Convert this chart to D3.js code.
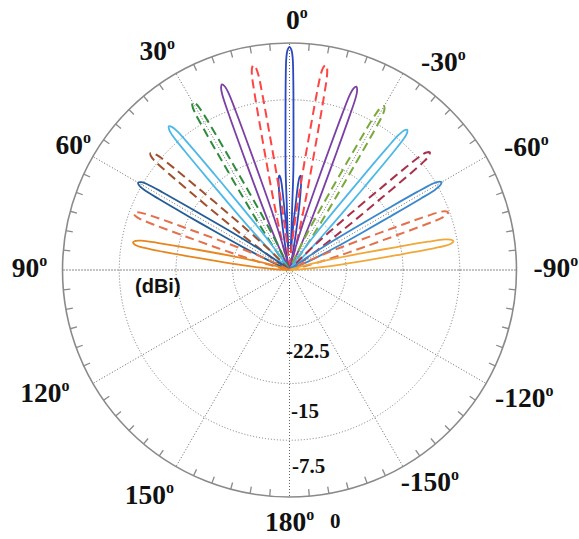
<!DOCTYPE html>
<html><head><meta charset="utf-8">
<script src="https://cdn.jsdelivr.net/npm/d3@7"></script>
<style>
html,body{margin:0;padding:0;background:#fff;}
svg{display:block;}
</style></head>
<body>
<svg id="chart" width="579" height="539"></svg>
<script>
// ---- data (angle in degrees, positive = counter-clockwise from top; gain in dBi) ----
const angleTicks = [0, 30, 60, 90, 120, 150, 180, -150, -120, -90, -60, -30];
const radialTicks = [-22.5, -15, -7.5, 0];
const radialUnit = "(dBi)";

const beam0 = [[-11.5,-30],[-11.0,-27.6],[-9.5,-24.05],[-8.5,-20.75],[-7.7,-18.63],[-7.2,-17.71],[-6.6,-17.44],[-6.1,-17.71],[-5.7,-18.63],[-5.4,-20.75],[-4.8,-24.05],[-3.8,-27.6],
  [-2.8,-24.7],[-2.4,-21.15],[-2.22,-16.73],[-1.58,-10.83],[-1.15,-4.93],[-0.86,-1.98],[-0.52,-0.94],[0,-0.5],[0.52,-0.94],[0.86,-1.98],[1.15,-4.93],[1.58,-10.83],[2.22,-16.73],[2.4,-21.15],[2.8,-24.7],
  [3.3,-27.6],[4.3,-24.05],[4.9,-20.75],[5.2,-18.63],[5.6,-17.71],[6.1,-17.44],[6.7,-17.71],[7.2,-18.63],[8.0,-20.75],[9.0,-24.05],[10.5,-27.6],[11.0,-30]];
const beamP10 = [[4.5,-30],[4.84,-27.8],[5.87,-25.05],[6.79,-21.75],[7.61,-17.63],[8.31,-12.13],[8.77,-6.63],[9.07,-3.88],[9.44,-2.91],[10,-2.5],
  [10.56,-2.91],[10.93,-3.88],[11.23,-6.63],[11.69,-12.13],[12.39,-17.63],[13.21,-21.75],[14.13,-25.05],[15.16,-27.8],[15.5,-30]];
const beamM10 = [[-15.5,-30],[-15.16,-27.8],[-14.13,-25.05],[-13.21,-21.75],[-12.39,-17.63],[-11.69,-12.13],[-11.23,-6.63],[-10.93,-3.88],[-10.56,-2.91],[-10,-2.5],
  [-9.44,-2.91],[-9.07,-3.88],[-8.77,-6.63],[-8.31,-12.13],[-7.61,-17.63],[-6.79,-21.75],[-5.87,-25.05],[-4.84,-27.8],[-4.5,-30]];
const beamP20 = [[14.2,-30],[14.56,-27.91],[15.65,-25.30],[16.62,-22.17],[17.49,-18.25],[18.21,-13.03],[18.70,-7.81],[19.02,-5.20],[19.41,-4.29],[20,-3.9],
  [20.59,-4.29],[20.98,-5.20],[21.30,-7.81],[21.79,-13.03],[22.51,-18.25],[23.38,-22.17],[24.35,-25.30],[25.44,-27.91],[25.8,-30]];
const beamM20 = [[-25.9,-30],[-25.50,-27.94],[-24.40,-25.36],[-23.42,-22.26],[-22.54,-18.39],[-21.81,-13.23],[-21.31,-8.07],[-20.99,-5.49],[-20.60,-4.59],[-20,-4.2],
  [-19.40,-4.59],[-19.01,-5.49],[-18.69,-8.07],[-18.19,-13.23],[-17.46,-18.39],[-16.58,-22.26],[-15.60,-25.36],[-14.50,-27.94],[-14.1,-30]];
const beamP30 = [[24.1,-30],[24.45,-27.95],[25.56,-25.39],[26.55,-22.32],[27.44,-18.48],[28.18,-13.36],[28.68,-8.24],[29.00,-5.68],[29.40,-4.78],[30,-4.4],
  [30.60,-4.78],[31.00,-5.68],[31.32,-8.24],[31.82,-13.36],[32.56,-18.48],[33.45,-22.32],[34.44,-25.39],[35.55,-27.95],[35.9,-30]];
const beamM30 = [[-36.0,-30],[-35.68,-28.0],[-34.54,-25.5],[-33.53,-22.5],[-32.62,-18.75],[-31.86,-13.75],[-31.35,-8.75],[-31.02,-6.25],[-30.61,-5.38],[-30,-5.0],
  [-29.39,-5.38],[-28.98,-6.25],[-28.65,-8.75],[-28.14,-13.75],[-27.38,-18.75],[-26.47,-22.5],[-25.46,-25.5],[-24.32,-28.0],[-24.0,-30]];
const beamP40 = [[33.9,-30],[34.28,-28.02],[35.42,-25.54],[36.44,-22.56],[37.35,-18.84],[38.12,-13.88],[38.64,-8.92],[38.97,-6.44],[39.38,-5.57],[40,-5.2],
  [40.62,-5.57],[41.03,-6.44],[41.36,-8.92],[41.88,-13.88],[42.65,-18.84],[43.56,-22.56],[44.58,-25.54],[45.72,-28.02],[46.1,-30]];
const beamM40 = [[-46.2,-30],[-45.87,-28.06],[-44.69,-25.64],[-43.65,-22.74],[-42.71,-19.11],[-41.93,-14.27],[-41.40,-9.43],[-41.05,-7.01],[-40.64,-6.16],[-40,-5.8],
  [-39.36,-6.16],[-38.95,-7.01],[-38.60,-9.43],[-38.07,-14.27],[-37.29,-19.11],[-36.35,-22.74],[-35.31,-25.64],[-34.13,-28.06],[-33.8,-30]];
const beamP50 = [[43.7,-30],[44.08,-28.08],[45.27,-25.68],[46.32,-22.8],[47.27,-19.2],[48.06,-14.4],[48.59,-9.6],[48.94,-7.2],[49.36,-6.36],[50,-6.0],
  [50.64,-6.36],[51.06,-7.2],[51.41,-9.6],[51.94,-14.4],[52.73,-19.2],[53.68,-22.8],[54.73,-25.68],[55.92,-28.08],[56.3,-30]];
const beamM50 = [[-56.2,-30],[-55.87,-28.06],[-54.69,-25.64],[-53.65,-22.74],[-52.71,-19.11],[-51.93,-14.27],[-51.40,-9.43],[-51.05,-7.01],[-50.64,-6.16],[-50,-5.8],
  [-49.36,-6.16],[-48.95,-7.01],[-48.60,-9.43],[-48.07,-14.27],[-47.29,-19.11],[-46.35,-22.74],[-45.31,-25.64],[-44.13,-28.06],[-43.8,-30]];
const beamP60 = [[53.5,-30],[53.85,-28.15],[55.08,-25.84],[56.18,-23.07],[57.16,-19.60],[57.98,-14.98],[58.53,-10.36],[58.90,-8.05],[59.33,-7.25],[60,-6.9],
  [60.67,-7.25],[61.10,-8.05],[61.47,-10.36],[62.02,-14.98],[62.84,-19.60],[63.82,-23.07],[64.92,-25.84],[66.15,-28.15],[66.5,-30]];
const beamM60 = [[-66.5,-30],[-66.12,-28.14],[-64.90,-25.82],[-63.81,-23.04],[-62.83,-19.56],[-62.01,-14.92],[-61.46,-10.28],[-61.10,-7.96],[-60.66,-7.15],[-60,-6.8],
  [-59.34,-7.15],[-58.90,-7.96],[-58.54,-10.28],[-57.99,-14.92],[-57.17,-19.56],[-56.19,-23.04],[-55.10,-25.82],[-53.88,-28.14],[-53.5,-30]];
const beamP70 = [[63.1,-30],[63.52,-28.25],[64.81,-26.06],[65.97,-23.43],[67.00,-20.14],[67.87,-15.76],[68.45,-11.38],[68.84,-9.19],[69.30,-8.43],[70,-8.1],
  [70.70,-8.43],[71.16,-9.19],[71.55,-11.38],[72.13,-15.76],[73.00,-20.14],[74.03,-23.43],[75.19,-26.06],[76.48,-28.25],[76.9,-30]];
const beamM70 = [[-76.8,-30],[-76.37,-28.22],[-75.09,-25.99],[-73.96,-23.31],[-72.94,-19.96],[-72.09,-15.50],[-71.52,-11.04],[-71.14,-8.81],[-70.69,-8.03],[-70,-7.7],
  [-69.31,-8.03],[-68.86,-8.81],[-68.48,-11.04],[-67.91,-15.50],[-67.06,-19.96],[-66.04,-23.31],[-64.91,-25.99],[-63.63,-28.22],[-63.2,-30]];
const beamP80 = [[72.8,-30],[73.24,-28.32],[74.59,-26.22],[75.79,-23.7],[76.87,-20.55],[77.78,-16.35],[78.39,-12.15],[78.79,-10.05],[79.27,-9.31],[80,-9.0],
  [80.73,-9.31],[81.21,-10.05],[81.61,-12.15],[82.22,-16.35],[83.13,-20.55],[84.21,-23.7],[85.41,-26.22],[86.76,-28.32],[87.2,-30]];
const beamM80 = [[-86.9,-30],[-86.45,-28.24],[-85.16,-26.04],[-84.02,-23.4],[-82.98,-20.1],[-82.12,-15.7],[-81.54,-11.3],[-81.16,-9.1],[-80.70,-8.33],[-80,-8.0],
  [-79.30,-8.33],[-78.84,-9.1],[-78.46,-11.3],[-77.88,-15.7],[-77.02,-20.1],[-75.98,-23.4],[-74.84,-26.04],[-73.55,-28.24],[-73.1,-30]];

const seriesData = [beam0, beamP10, beamM10, beamP20, beamM20, beamP30, beamM30, beamP40, beamM40,
                    beamP50, beamM50, beamP60, beamM60, beamP70, beamM70, beamP80, beamM80];
const seriesColors = ["#2a48c0", "#ff4444", "#ff4444", "#7b3fa6", "#7b3fa6", "#2e8b3a", "#7aaa3a", "#4cb8e8", "#4cb8e8",
                      "#a0502c", "#a8304a", "#245d96", "#3a88cc", "#e4704c", "#e4704c", "#e8861e", "#f0a838"];
const seriesDashed = [false, true, true, false, false, true, true, false, false,
                      true, true, false, false, true, true, false, false];

// ---- layout ----
const cx = 289.5, cy = 270, R = 227;
const svg = d3.select("#chart");
const g = svg.append("g").attr("transform", `translate(${cx},${cy})`);
const rScale = d3.scaleLinear().domain([-30, 0]).range([0, R]).clamp(true);
const toRad = d => -d * Math.PI / 180; // positive degrees go counter-clockwise

// rings
g.selectAll("circle.ring").data(radialTicks.slice(0, -1)).join("circle")
  .attr("r", d => rScale(d)).attr("fill", "none")
  .attr("stroke", "#777").attr("stroke-width", 1).attr("stroke-dasharray", "1,2");

// spokes
g.selectAll("line.spoke").data(angleTicks).join("line")
  .attr("x1", 0).attr("y1", 0)
  .attr("x2", d => R * Math.sin(toRad(d)))
  .attr("y2", d => -R * Math.cos(toRad(d)))
  .attr("stroke", d => (Math.abs(d) === 90) ? "#111" : "#666")
  .attr("stroke-width", 1).attr("stroke-dasharray", "1,2");

// outer circle
g.append("circle").attr("r", R).attr("fill", "none").attr("stroke", "#8a8a8a").attr("stroke-width", 1.6);
// ticks every 5 degrees
const tickAngles = d3.range(-175, 185, 5).filter(a => a % 30 !== 0);
g.selectAll("line.tick").data(tickAngles).join("line")
  .attr("x1", d => R * Math.sin(toRad(d))).attr("y1", d => -R * Math.cos(toRad(d)))
  .attr("x2", d => (R - 7) * Math.sin(toRad(d))).attr("y2", d => -(R - 7) * Math.cos(toRad(d)))
  .attr("stroke", "#8a8a8a").attr("stroke-width", 1.3);

// beams
const line = d3.lineRadial()
  .angle(d => toRad(d[0]))
  .radius(d => rScale(d[1]))
  .curve(d3.curveCatmullRom.alpha(0.5));
seriesData.forEach((s, i) => {
  g.append("path").datum(s)
    .attr("d", line)
    .attr("fill", "none")
    .attr("stroke", seriesColors[i])
    .attr("stroke-width", seriesDashed[i] ? 2 : 1.8)
    .attr("stroke-linejoin", "round")
    .attr("stroke-dasharray", seriesDashed[i] ? "9,5" : null);
});

// angle labels (left x, baseline y)
const angleLabelPos = {
  "0": [286, 28.5], "30": [139.6, 60.2], "-30": [421, 70.5], "60": [55.4, 154], "-60": [504, 156.4],
  "90": [11.8, 276.7], "-90": [533.6, 276.7], "120": [20.3, 402], "-120": [495, 406.7],
  "150": [124.8, 504], "-150": [400.7, 491], "180": [265, 531]
};
angleTicks.forEach(a => {
  const p = angleLabelPos[String(a)];
  const t = svg.append("text").attr("x", p[0]).attr("y", p[1])
    .attr("font-family", "'Liberation Serif','Times New Roman',serif")
    .attr("font-weight", "bold").attr("font-size", 27.5).attr("fill", "#111");
  t.append("tspan").text(String(a));
  t.append("tspan").attr("font-size", 16).attr("dy", -11).text("o");
});

// radial labels
const radialLabelPos = { "-22.5": [286, 358], "-15": [291, 418], "-7.5": [292, 473], "0": [330, 528] };
radialTicks.forEach(v => {
  const p = radialLabelPos[String(v)];
  svg.append("text").attr("x", p[0]).attr("y", p[1])
    .attr("font-family", "'Liberation Serif','Times New Roman',serif")
    .attr("font-weight", "bold").attr("font-size", 21).attr("fill", "#111")
    .text(String(v));
});

svg.append("text").attr("x", 135).attr("y", 293)
  .attr("font-family", "'Liberation Sans',Arial,sans-serif")
  .attr("font-weight", "bold").attr("font-size", 20).attr("fill", "#111")
  .text(radialUnit);
</script>
</body></html>
